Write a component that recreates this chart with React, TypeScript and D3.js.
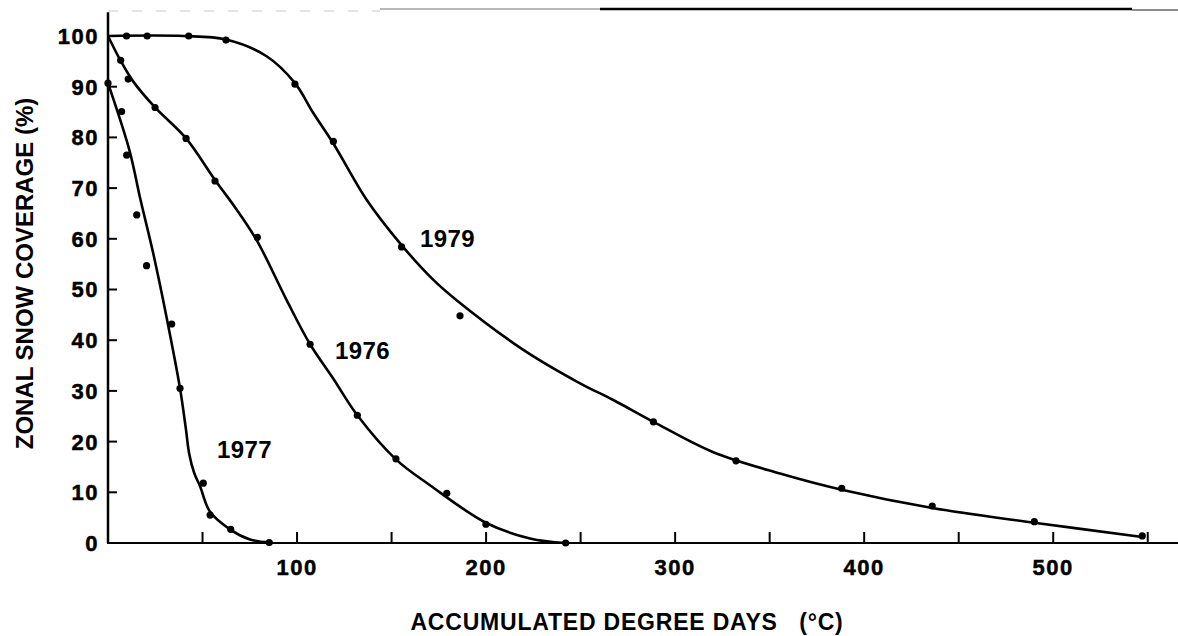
import React, { useEffect, useRef } from 'react';
import * as d3 from 'd3';

const WIDTH = 1178;
const HEIGHT = 636;
const FONT = '"Liberation Sans", Arial, Helvetica, sans-serif';

// axis ticks
const X_TICKS = [50, 100, 150, 200, 250, 300, 350, 400, 450, 500, 550];
const X_LABELS = [100, 200, 300, 400, 500];
const Y_TICKS = [10, 20, 30, 40, 50, 60, 70, 80, 90, 100];
const Y_LABELS = [0, 10, 20, 30, 40, 50, 60, 70, 80, 90, 100];

// observed points (degree days, % coverage)
const POINTS_1979: [number, number][] = [
  [9.8, 100], [20.7, 100], [42.7, 100], [62.4, 99.2], [98.9, 90.5], [119.2, 79.2],
  [155.3, 58.4], [186.2, 44.8], [288.5, 23.9], [332.2, 16.2], [388.1, 10.8],
  [436.0, 7.3], [490.0, 4.2], [547.1, 1.4],
];
const POINTS_1976: [number, number][] = [
  [6.7, 95.2], [10.7, 91.5], [24.9, 85.9], [41.3, 79.8], [56.6, 71.4], [79.0, 60.3],
  [106.9, 39.2], [131.9, 25.2], [152.3, 16.6], [179.2, 9.8], [199.9, 3.7], [242.1, 0],
];
const POINTS_1977: [number, number][] = [
  [0, 90.7], [7.2, 85.1], [9.9, 76.5], [15.2, 64.7], [20.4, 54.7], [33.7, 43.2],
  [38.1, 30.5], [50.4, 11.8], [54.0, 5.5], [64.9, 2.7], [85.3, 0.1],
];

// hand-fitted curves
const CURVE_1979: [number, number][] = [
  [0, 100], [40, 100], [62.4, 99.3], [83.9, 96], [98.9, 90.7], [108.6, 84.8],
  [119.2, 78.8], [136.8, 67.7], [154.5, 59.1], [172.1, 51.9], [184.4, 47.9],
  [219.7, 38.1], [249.7, 31.5], [267.3, 28.2], [288.5, 23.9], [320.2, 17.9],
  [355.5, 13.7], [388.1, 10.5], [436.0, 6.9], [490.0, 4.0], [547.1, 1.2],
];
const CURVE_1976: [number, number][] = [
  [0, 100], [6.7, 95.1], [13.4, 91.0], [24.9, 85.9], [41.3, 79.8],
  [56.6, 71.6], [68.0, 65.8], [79.0, 59.5], [94.5, 47.9], [106.9, 39.2], [119.2, 32.4],
  [131.9, 25.2], [152.3, 16.5], [170.3, 11.4], [199.9, 4.0], [223.2, 0.9],
  [242.1, 0],
];
const CURVE_1977: [number, number][] = [
  [0, 90.7], [11.3, 77.5], [17.2, 67.7], [24.0, 57.0], [31.0, 44.5],
  [38.1, 30.5], [41.2, 22.5], [43.0, 17.5], [45.6, 13.8], [48.7, 11.2], [53.9, 6.2],
  [64.9, 2.6], [75.1, 0.7], [85.3, 0.1],
];

const YEARS = ['1979', '1976', '1977'];
const LABEL_AT: [number, number][] = [[165.0, 58.4], [120.1, 36.3], [57.7, 16.8]];

const SnowChart: React.FC = () => {
  const svgRef = useRef<SVGSVGElement>(null);

  useEffect(() => {
    if (!svgRef.current) return;
    const svg = d3.select(svgRef.current);
    svg.selectAll('*').remove();

    const x = d3.scaleLinear().domain([0, 566]).range([108, 1178]);
    const y = d3.scaleLinear().domain([0, 100]).range([543, 36]);
    const yTop = y(104.7);

    const g = svg.append('g');

    // faded top frame (scanned border)
    g.append('line')
      .attr('x1', x(0)).attr('x2', 380).attr('y1', 11).attr('y2', 11)
      .attr('stroke', '#c8c8c8').attr('stroke-width', 1.2).attr('stroke-dasharray', '10 14');
    g.append('line')
      .attr('x1', 380).attr('x2', 600).attr('y1', 9).attr('y2', 9)
      .attr('stroke', '#a0a0a0').attr('stroke-width', 1.5);
    g.append('line')
      .attr('x1', 600).attr('x2', 1132).attr('y1', 9).attr('y2', 9)
      .attr('stroke', '#000').attr('stroke-width', 2.5);
    g.append('line')
      .attr('x1', 1132).attr('x2', WIDTH).attr('y1', 10).attr('y2', 10)
      .attr('stroke', '#666').attr('stroke-width', 1.5);

    // axes
    g.append('line')
      .attr('x1', x(0)).attr('x2', x(0)).attr('y1', yTop).attr('y2', y(0))
      .attr('stroke', '#000').attr('stroke-width', 2.5);
    g.append('line')
      .attr('x1', x(0) - 1).attr('x2', WIDTH).attr('y1', y(0)).attr('y2', y(0))
      .attr('stroke', '#000').attr('stroke-width', 2.2);

    g.selectAll('.ytick').data(Y_TICKS).enter().append('line')
      .attr('x1', x(0)).attr('x2', x(0) + 9)
      .attr('y1', d => y(d)).attr('y2', d => y(d))
      .attr('stroke', '#000').attr('stroke-width', 2);

    g.selectAll('.xtick').data(X_TICKS).enter().append('line')
      .attr('x1', d => x(d)).attr('x2', d => x(d))
      .attr('y1', y(0)).attr('y2', y(0) - 11)
      .attr('stroke', '#000').attr('stroke-width', 2);

    g.selectAll('.ylabel').data(Y_LABELS).enter().append('text')
      .attr('x', x(0) - 9)
      .attr('y', d => y(d))
      .attr('dy', '0.36em')
      .attr('text-anchor', 'end')
      .attr('font-family', FONT).attr('font-weight', 700).attr('font-size', 22)
      .attr('letter-spacing', 1.5)
      .attr('stroke', '#000').attr('stroke-width', 0.5)
      .text(d => String(d));

    g.selectAll('.xlabel').data(X_LABELS).enter().append('text')
      .attr('x', d => x(d))
      .attr('y', y(0) + 32)
      .attr('text-anchor', 'middle')
      .attr('font-family', FONT).attr('font-weight', 700).attr('font-size', 22)
      .attr('letter-spacing', 1.5)
      .attr('stroke', '#000').attr('stroke-width', 0.5)
      .text(d => String(d));

    // axis titles
    g.append('text')
      .attr('x', 627).attr('y', 630)
      .attr('text-anchor', 'middle')
      .attr('font-family', FONT).attr('font-weight', 700).attr('font-size', 23)
      .attr('letter-spacing', 0.8)
      .style('white-space', 'pre')
      .text('ACCUMULATED DEGREE DAYS   (°C)');

    g.append('text')
      .attr('transform', 'translate(33,273.5) rotate(-90)')
      .attr('text-anchor', 'middle')
      .attr('font-family', FONT).attr('font-weight', 700).attr('font-size', 24)
      .text('ZONAL SNOW COVERAGE (%)');

    // curves + points
    const line = d3.line<[number, number]>()
      .curve(d3.curveCatmullRom.alpha(0.5))
      .x(d => x(d[0]))
      .y(d => y(d[1]));

    const curves = [CURVE_1979, CURVE_1976, CURVE_1977];
    const points = [POINTS_1979, POINTS_1976, POINTS_1977];

    curves.forEach(c => {
      g.append('path')
        .datum(c)
        .attr('fill', 'none')
        .attr('stroke', '#000')
        .attr('stroke-width', 2.6)
        .attr('stroke-linejoin', 'round')
        .attr('d', line);
    });

    points.forEach(p => {
      g.selectAll(null).data(p).enter().append('circle')
        .attr('cx', d => x(d[0]))
        .attr('cy', d => y(d[1]))
        .attr('r', 3.6)
        .attr('fill', '#000');
    });

    g.selectAll('.year').data(YEARS).enter().append('text')
      .attr('x', (_, i) => x(LABEL_AT[i][0]))
      .attr('y', (_, i) => y(LABEL_AT[i][1]))
      .attr('font-family', FONT).attr('font-weight', 700).attr('font-size', 24)
      .attr('letter-spacing', 0.4)
      .text(d => d);
  }, []);

  return (
    <div style={{ position: 'fixed', left: 0, top: 0, width: WIDTH, height: HEIGHT, background: '#fff' }}>
      <svg ref={svgRef} width={WIDTH} height={HEIGHT} style={{ display: 'block' }}></svg>
    </div>
  );
};

export default function App() {
  return <SnowChart />;
}
